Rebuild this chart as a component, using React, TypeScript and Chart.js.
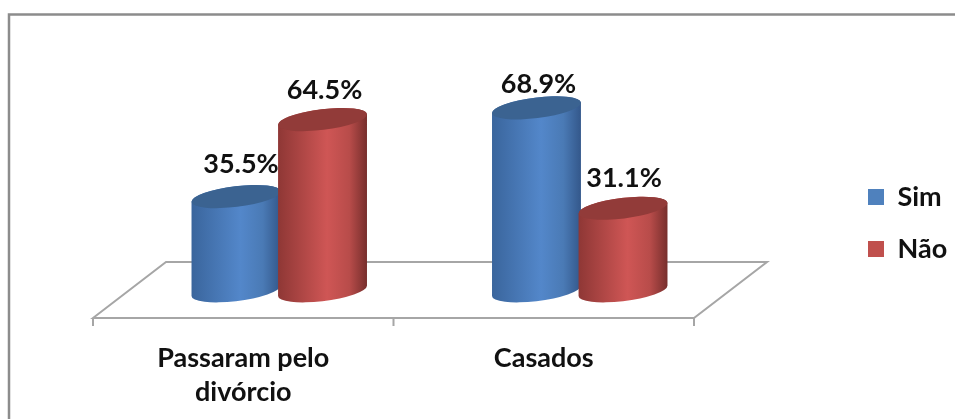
import React, { useEffect, useRef } from "react";
import { Chart, registerables } from "chart.js";

Chart.register(...registerables);

const categories = [["Passaram pelo", "divórcio"], "Casados"];
const simValues = [35.5, 68.9];
const naoValues = [64.5, 31.1];
const seriesNames = ["Sim", "Não"];
const seriesColors = ["#4f81bd", "#c0504d"];
const capColors = ["#3b6391", "#923b39"];
const shadeColors = [
  ["#3a659c", "#5387ca", "#4a7ab5", "#33578a"],
  ["#8e3735", "#cf5655", "#b84c4a", "#762e2c"],
];
// Per-bar nudges for the percentage labels, [dx, dy] by series then category.
const labelNudges = [
  [[5, -32], [2, -24]],
  [[2, -29], [1, -30]],
];

const FONT = "Lato, Carlito, 'Open Sans', sans-serif";
const DEPTH_X = 73;
const DEPTH_Y = 56;
const FLOOR_DROP = 27.2;
const TILT = (-7 * Math.PI) / 180;
const CAP_RY = 10.3;
const GROUP_SHIFT = 36;

function drawFrame(ctx: CanvasRenderingContext2D) {
  ctx.save();
  ctx.strokeStyle = "#8c8c8c";
  ctx.lineWidth = 2.5;
  ctx.beginPath();
  ctx.moveTo(9, 419);
  ctx.lineTo(9, 14.5);
  ctx.lineTo(955, 14.5);
  ctx.stroke();
  ctx.restore();
}

function drawFloor(chart: any) {
  const { ctx, scales } = chart;
  const left = scales.x.left;
  const right = scales.x.right;
  const front = scales.y.getPixelForValue(0) + FLOOR_DROP;
  const back = front - DEPTH_Y;
  ctx.save();
  ctx.strokeStyle = "#a6a6a6";
  ctx.lineWidth = 2;
  ctx.beginPath();
  ctx.moveTo(left, front);
  ctx.lineTo(left + DEPTH_X, back);
  ctx.lineTo(right + DEPTH_X, back);
  ctx.lineTo(right, front);
  ctx.closePath();
  [left, (left + right) / 2, right].forEach((x: number) => {
    ctx.moveTo(x, front);
    ctx.lineTo(x, front + 8);
  });
  ctx.stroke();
  ctx.restore();
}

function drawCylinder(
  ctx: CanvasRenderingContext2D,
  cx: number,
  top: number,
  base: number,
  rx: number,
  series: number
) {
  const t0 = Math.atan((-CAP_RY / rx) * Math.tan(TILT));
  const grad = ctx.createLinearGradient(cx - rx, 0, cx + rx, 0);
  const [edgeA, mid, shoulder, edgeB] = shadeColors[series];
  grad.addColorStop(0, edgeA);
  grad.addColorStop(0.55, mid);
  grad.addColorStop(0.8, shoulder);
  grad.addColorStop(1, edgeB);
  ctx.beginPath();
  ctx.ellipse(cx, base, rx, CAP_RY, TILT, t0, t0 + Math.PI);
  ctx.ellipse(cx, top, rx, CAP_RY, TILT, t0 + Math.PI, t0 + 2 * Math.PI);
  ctx.closePath();
  ctx.fillStyle = grad;
  ctx.fill();
  ctx.beginPath();
  ctx.ellipse(cx, top, rx, CAP_RY, TILT, 0, 2 * Math.PI);
  ctx.fillStyle = capColors[series];
  ctx.fill();
}

const cylinderPlugin = {
  id: "cylinders",
  afterLayout(chart: any) {
    const legend = chart.legend;
    legend.left = 843;
    legend.right = 955;
    legend.top = 158.5;
    legend.bottom = 419;
  },
  beforeDraw(chart: any) {
    drawFrame(chart.ctx);
    drawFloor(chart);
  },
  beforeDatasetsDraw(chart: any) {
    const { ctx } = chart;
    chart.data.datasets.forEach((ds: any, series: number) => {
      chart.getDatasetMeta(series).data.forEach((bar: any, i: number) => {
        const cx = bar.x + GROUP_SHIFT;
        drawCylinder(ctx, cx, bar.y, bar.base, bar.width / 2 + 1.5, series);
      });
    });
    ctx.save();
    ctx.font = `700 27px ${FONT}`;
    ctx.fillStyle = "#111";
    ctx.textAlign = "center";
    ctx.textBaseline = "middle";
    chart.data.datasets.forEach((ds: any, series: number) => {
      chart.getDatasetMeta(series).data.forEach((bar: any, i: number) => {
        const [dx, dy] = labelNudges[series][i];
        ctx.fillText(`${ds.data[i].toFixed(1)}%`, bar.x + GROUP_SHIFT + dx, bar.y + dy);
      });
    });
    ctx.restore();
    return false;
  },
};

export default function App() {
  const ref = useRef<HTMLCanvasElement>(null);
  useEffect(() => {
    const chart = new Chart(ref.current as HTMLCanvasElement, {
      type: "bar",
      data: {
        labels: categories,
        datasets: [
          { label: seriesNames[0], data: simValues, backgroundColor: seriesColors[0] },
          { label: seriesNames[1], data: naoValues, backgroundColor: seriesColors[1] },
        ],
      },
      options: {
        animation: false,
        responsive: false,
        layout: { padding: { left: 93, right: 261, top: 25.3, bottom: 0 } },
        datasets: { bar: { categoryPercentage: 0.576, barPercentage: 1 } },
        scales: {
          x: {
            grid: { display: false },
            border: { display: false },
            afterFit(scale: any) {
              scale.height = 128.2;
            },
            ticks: {
              padding: 42,
              maxRotation: 0,
              color: "#111",
              font: { family: FONT, size: 27, weight: 700, lineHeight: 1.26 },
            },
          },
          y: { display: false, min: 0, max: 100 },
        },
        plugins: {
          tooltip: { enabled: false },
          legend: {
            position: "chartArea",
            align: "start",
            labels: {
              boxWidth: 16,
              boxHeight: 16,
              padding: 25,
              color: "#111",
              font: { family: FONT, size: 27, weight: 700 },
            },
          },
        },
      } as any,
      plugins: [cylinderPlugin],
    });
    return () => chart.destroy();
  }, []);
  return (
    <div style={{ position: "absolute", left: 0, top: 0, width: 955, height: 419, background: "#fff" }}>
      <canvas ref={ref} width={955} height={419} style={{ display: "block" }} />
    </div>
  );
}
